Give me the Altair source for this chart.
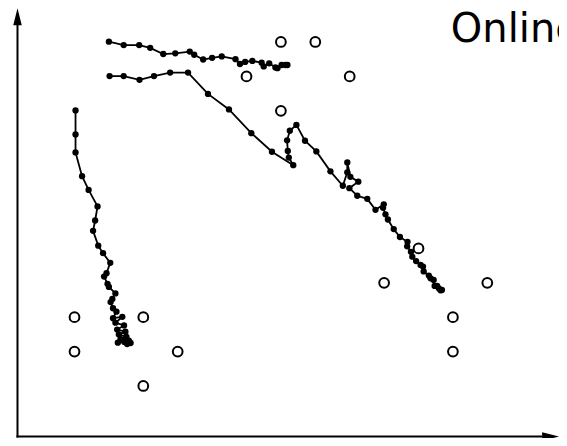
import altair as alt
import pandas as pd

# Trajectory A (left, falling steeply)
a_x = [0.03, 0.03, 0.03, 0.22, 0.41, 0.67, 0.60, 0.54, 0.69, 0.83, 1.04, 0.93, 0.86, 0.96, 1.00,
       1.19, 1.10, 1.05, 1.12, 1.22, 1.12, 1.39, 1.19, 1.44, 1.24, 1.48, 1.29, 1.51, 1.34, 1.58,
       1.26, 1.45, 1.63, 1.53]
a_y = [8.01, 7.31, 6.79, 6.10, 5.70, 5.22, 4.81, 4.51, 4.08, 3.86, 3.58, 3.28, 3.18, 2.97, 2.88,
       2.69, 2.53, 2.44, 2.26, 2.16, 1.97, 2.01, 1.84, 1.76, 1.64, 1.58, 1.50, 1.43, 1.36, 1.32,
       1.26, 1.28, 1.25, 1.22]

# Trajectory B (top, nearly flat)
b_x = [1.00, 1.43, 1.88, 2.20, 2.58, 2.93, 3.35, 3.48, 3.74, 4.00, 4.28, 4.68, 4.81, 4.96, 5.17,
       5.44, 5.50, 5.66, 5.84, 5.90, 6.02, 6.13, 6.19]
b_y = [10.01, 9.91, 9.91, 9.83, 9.65, 9.67, 9.72, 9.63, 9.49, 9.54, 9.58, 9.50, 9.36, 9.42, 9.45,
       9.40, 9.29, 9.38, 9.26, 9.24, 9.33, 9.33, 9.33]

# Trajectory C (middle, long descent)
c_x = [1.02, 1.43, 1.89, 2.31, 2.78, 3.30, 3.88, 4.49, 5.14, 5.74, 6.36, 6.23, 6.20, 6.18, 6.26,
       6.45, 6.70, 7.03, 7.44, 7.80, 7.93, 7.93, 8.02, 8.25, 7.99, 8.22, 8.51, 8.75, 8.99, 8.97,
       9.04, 9.11, 9.28, 9.46, 9.68, 9.67, 9.78, 9.82, 9.93, 10.06, 10.13, 10.15, 10.30, 10.35,
       10.44, 10.47, 10.54, 10.59, 10.64, 10.68]
c_y = [9.01, 9.01, 8.90, 9.01, 9.11, 9.11, 8.49, 8.04, 7.35, 6.81, 6.42, 6.64, 6.83, 7.14, 7.42,
       7.59, 7.13, 6.82, 6.24, 5.82, 6.21, 6.50, 6.08, 5.94, 5.75, 5.53, 5.44, 5.12, 5.28, 5.18,
       4.99, 4.84, 4.56, 4.33, 4.19, 4.06, 3.90, 3.76, 3.63, 3.52, 3.47, 3.33, 3.21, 3.13,
       3.08, 2.91, 2.91, 2.84, 2.78, 2.79]

# Open circles (targets)
circ_x = [6, 7, 5, 8, 6, 10, 9, 12, 0, 2, 11, 0, 3, 11, 2]
circ_y = [10, 10, 9, 9, 8, 4, 3, 3, 2, 2, 2, 1, 1, 1, 0]

label_text = "Online"

rows = []
for name, xs, ys in (("A", a_x, a_y), ("B", b_x, b_y), ("C", c_x, c_y)):
    for i, (xv, yv) in enumerate(zip(xs, ys)):
        rows.append({"series": name, "idx": i, "x": xv, "y": yv})
traj = pd.DataFrame(rows)
circ = pd.DataFrame({"x": circ_x, "y": circ_y})

xs = alt.Scale(domain=[-1.933, 14.084], nice=False, zero=False)
ys = alt.Scale(domain=[-1.512, 10.988], nice=False, zero=False)
X = lambda f="x": alt.X(f"{f}:Q", scale=xs, axis=None)
Y = lambda f="y": alt.Y(f"{f}:Q", scale=ys, axis=None)

lines = alt.Chart(traj).mark_line(color="black", strokeWidth=1.8).encode(
    x=X(), y=Y(), detail="series:N", order="idx:Q"
)
dots = alt.Chart(traj).mark_circle(color="black", size=40, opacity=1).encode(x=X(), y=Y())
rings = alt.Chart(circ).mark_point(
    shape="circle", filled=False, color="black", strokeWidth=2, size=95, opacity=1
).encode(x=X(), y=Y())

# axes with arrows
AX_Y = -1.47
AX_X = -1.657
vax = pd.DataFrame({"x": [AX_X], "y": [AX_Y - 0.03], "y2": [10.5]})
hax = pd.DataFrame({"x": [AX_X - 0.03], "x2": [13.6], "y": [AX_Y]})
vline = alt.Chart(vax).mark_rule(color="black", strokeWidth=2).encode(
    x=X(), y=Y(), y2="y2:Q"
)
hline = alt.Chart(hax).mark_rule(color="black", strokeWidth=2).encode(
    x=X(), x2="x2:Q", y=Y()
)
varrow = alt.Chart(pd.DataFrame({"x": [AX_X], "y": [10.735]})).mark_point(
    shape="M0,-1L0.5,1L-0.5,1Z", filled=True, color="black", size=289, opacity=1
).encode(x=X(), y=Y())
harrow = alt.Chart(pd.DataFrame({"x": [13.84], "y": [AX_Y]})).mark_point(
    shape="M1,0L-1,-0.5L-1,0.5Z", filled=True, color="black", size=289, opacity=1
).encode(x=X(), y=Y())

label = alt.Chart(pd.DataFrame({"x": [10.94], "y": [10.0], "t": [label_text]})).mark_text(
    font="DejaVu Sans", fontSize=40, align="left", baseline="alphabetic", color="black"
).encode(x=X(), y=Y(), text="t:N")

chart = alt.layer(vline, hline, varrow, harrow, lines, dots, rings, label).properties(
    width=551, height=430, padding=0, autosize=alt.AutoSizeParams(type="none")
).configure_view(stroke=None)

chart.save("out.html", embed_options={"renderer": "svg", "actions": False})
